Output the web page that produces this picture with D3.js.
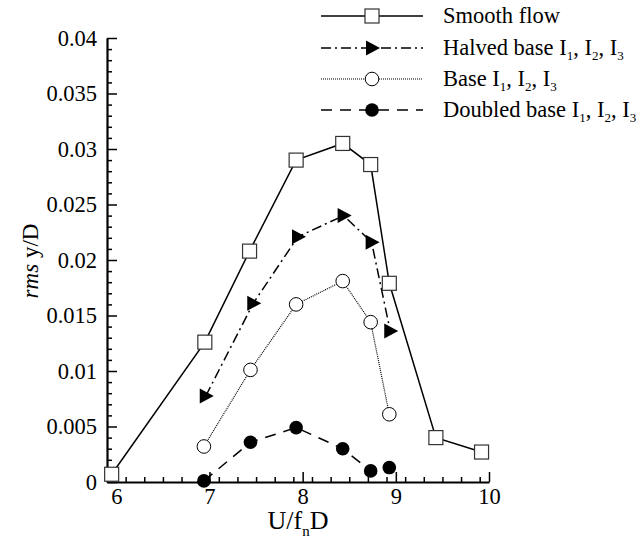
<!DOCTYPE html>
<html><head><meta charset="utf-8">
<script src="https://cdn.jsdelivr.net/npm/d3@7"></script>
<style>
body{margin:0;background:#fff;}
svg{display:block;}
svg text{font-family:"Liberation Serif","Times New Roman",serif;}
</style></head>
<body><svg id="c" width="641" height="542"></svg>
<script>
const smoothX = [5.95, 6.95, 7.43, 7.93, 8.43, 8.73, 8.93, 9.43, 9.92];
const smoothY = [0.0007, 0.0126, 0.0208, 0.0290, 0.0305, 0.0286, 0.0179, 0.0040, 0.0027];
const halvedX = [6.96, 7.47, 7.95, 8.44, 8.74, 8.94];
const halvedY = [0.00775, 0.0161, 0.0221, 0.0240, 0.0216, 0.0136];
const baseX = [6.94, 7.44, 7.93, 8.43, 8.73, 8.93];
const baseY = [0.0032, 0.0101, 0.0160, 0.0181, 0.0144, 0.0061];
const doubledX = [6.94, 7.44, 7.93, 8.43, 8.73, 8.93];
const doubledY = [0.0001, 0.00358, 0.0049, 0.0030, 0.0010, 0.0013];
const seriesNames = ["Smooth flow", "Halved base I|1|, I|2|, I|3|", "Base I|1|, I|2|, I|3|", "Doubled base I|1|, I|2|, I|3|"];
const xTicks = [6, 7, 8, 9, 10];
const yTicks = [0, 0.005, 0.01, 0.015, 0.02, 0.025, 0.03, 0.035, 0.04];

const svg = d3.select("#c");
const x = d3.scaleLinear().domain([5.9, 10]).range([107, 489]);
const y = d3.scaleLinear().domain([0, 0.04]).range([482, 38]);
const FS = 22.5;

const series = [
  {xs: smoothX, ys: smoothY, dash: null, marker: "square"},
  {xs: halvedX, ys: halvedY, dash: "10,4,2,4", marker: "triangle"},
  {xs: baseX, ys: baseY, dash: "1,1", marker: "open"},
  {xs: doubledX, ys: doubledY, dash: "11,8", marker: "filled"}
];

function drawMarker(g, type, cx, cy) {
  if (type === "square") {
    g.append("rect").attr("x", cx - 7).attr("y", cy - 7).attr("width", 14).attr("height", 14)
      .attr("fill", "#fff").attr("stroke", "#333").attr("stroke-width", 1.2);
  } else if (type === "triangle") {
    g.append("path").attr("d", `M${cx - 6},${cy - 7.5}L${cx + 8},${cy}L${cx - 6},${cy + 7.5}Z`).attr("fill", "#000");
  } else if (type === "open") {
    g.append("circle").attr("cx", cx).attr("cy", cy).attr("r", 6.8)
      .attr("fill", "#fff").attr("stroke", "#000").attr("stroke-width", 1);
  } else {
    g.append("circle").attr("cx", cx).attr("cy", cy).attr("r", 6.8).attr("fill", "#000");
  }
}

// axes
const minorX = d3.range(5.9, 10.0001, 0.2).map(v => +v.toFixed(1)).filter(v => !xTicks.includes(v) && v > 5.95);
const minorY = d3.range(0, 0.04001, 0.001).map(v => +v.toFixed(3)).filter(v => !yTicks.some(t => Math.abs(t - v) < 1e-9));

const xa = svg.append("g").attr("transform", `translate(0,${y(0)})`)
  .call(d3.axisBottom(x).tickValues(xTicks).tickSizeInner(-10).tickSizeOuter(0).tickPadding(6).tickFormat(d3.format("d")));
xa.select(".domain").attr("stroke-width", 2.2);
svg.append("g").attr("transform", `translate(0,${y(0)})`)
  .call(d3.axisBottom(x).tickValues(minorX).tickSizeInner(-5).tickSizeOuter(0).tickFormat(""))
  .call(g => g.select(".domain").remove());

const ya = svg.append("g").attr("transform", `translate(${x(5.9)},0)`)
  .call(d3.axisLeft(y).tickValues(yTicks).tickSizeInner(-10).tickSizeOuter(0).tickPadding(10)
    .tickFormat(d => d === 0 ? "0" : String(+d.toFixed(3))));
ya.select(".domain").attr("stroke-width", 2.2);
svg.append("g").attr("transform", `translate(${x(5.9)},0)`)
  .call(d3.axisLeft(y).tickValues(minorY).tickSizeInner(-5).tickSizeOuter(0).tickFormat(""))
  .call(g => g.select(".domain").remove());

svg.selectAll("g").attr("font-family", null).attr("font-size", null);
svg.selectAll(".tick line").attr("stroke-width", 1.5);
svg.selectAll(".tick text").style("font-family", "'Liberation Serif', serif").style("font-size", FS + "px").attr("fill", "#000");

// axis titles
const xt = svg.append("text").attr("x", x(7.95)).attr("y", 529).attr("text-anchor", "middle")
  .style("font-size", "26px");
xt.append("tspan").text("U/f");
xt.append("tspan").style("font-size", "15px").attr("dy", 7).text("n");
xt.append("tspan").attr("dy", -7).text("D");

const yt = svg.append("text").attr("transform", "translate(38,261) rotate(-90)").attr("text-anchor", "middle")
  .style("font-size", "23px");
yt.append("tspan").attr("font-style", "italic").text("rms");
yt.append("tspan").text(" y/D");

// lines & markers
const line = d3.line().x(d => x(d[0])).y(d => y(d[1]));
series.forEach(s => {
  const pts = s.xs.map((v, i) => [v, s.ys[i]]);
  svg.append("path").datum(pts).attr("d", line).attr("fill", "none").attr("stroke", "#000")
    .attr("stroke-width", s.marker === "open" ? 1.2 : 1.5).attr("stroke-dasharray", s.dash);
});
series.forEach(s => {
  const g = svg.append("g");
  s.xs.forEach((v, i) => drawMarker(g, s.marker, x(v), y(s.ys[i])));
});

// legend
const legY = [16, 48, 79, 110];
series.forEach((s, i) => {
  const g = svg.append("g");
  const yy = legY[i];
  g.append("line").attr("x1", 321).attr("x2", 423).attr("y1", yy).attr("y2", yy)
    .attr("stroke", "#000").attr("stroke-width", s.marker === "open" ? 1.2 : 1.5).attr("stroke-dasharray", s.dash);
  drawMarker(g, s.marker, 372, yy);
  const t = g.append("text").attr("x", 443).attr("y", yy + 7).style("font-size", FS + "px");
  seriesNames[i].split("|").forEach((part, k) => {
    const ts = t.append("tspan").text(part);
    if (k % 2 === 1) ts.style("font-size", "13px").attr("dy", 5);
    else if (k > 0) ts.attr("dy", -5);
  });
});
</script></body></html>
